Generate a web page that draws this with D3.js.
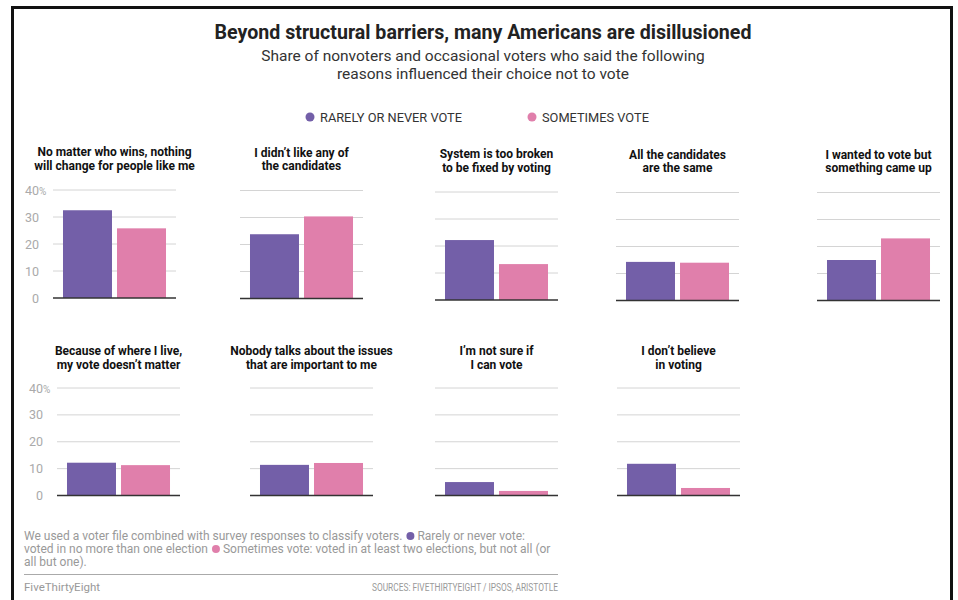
<!DOCTYPE html>
<html>
<head>
<meta charset="utf-8">
<title>Beyond structural barriers</title>
<script src="https://cdn.jsdelivr.net/npm/d3@7"></script>
<style>
body { margin:0; background:#fff; }
text { font-family: Roboto, "Liberation Sans", Arial, sans-serif; }
</style>
</head>
<body>
<script>
// chart data
var categories = [
  ["No matter who wins, nothing", "will change for people like me"],
  ["I didn\u2019t like any of", "the candidates"],
  ["System is too broken", "to be fixed by voting"],
  ["All the candidates", "are the same"],
  ["I wanted to vote but", "something came up"],
  ["Because of where I live,", "my vote doesn\u2019t matter"],
  ["Nobody talks about the issues", "that are important to me"],
  ["I\u2019m not sure if", "I can vote"],
  ["I don\u2019t believe", "in voting"]
];
var rarely    = [32.5, 23.8, 22.2, 14.3, 15.0, 12.2, 11.4, 5.0, 11.8];
var sometimes = [25.8, 30.4, 13.3, 14.0, 23.0, 11.3, 12.1, 1.7, 2.8];
var series = ["RARELY OR NEVER VOTE", "SOMETIMES VOTE"];
var tickValues = [0, 10, 20, 30, 40];

var colors = ["#735fa8", "#e07fab"];
var width = 958, height = 600;

var svg = d3.select('body').append('svg').attr('width', width).attr('height', height);

// frame
svg.append('rect').attr('x', 12.5).attr('y', 7.5).attr('width', 939).attr('height', 620)
  .attr('fill', 'none').attr('stroke', '#111').attr('stroke-width', 3);

// title + subtitle
svg.append('text').attr('x', 483).attr('y', 39).attr('text-anchor', 'middle')
  .attr('font-size', 19.5).attr('font-weight', 700).attr('fill', '#222')
  .attr('textLength', 537).attr('lengthAdjust', 'spacingAndGlyphs')
  .text('Beyond structural barriers, many Americans are disillusioned');
svg.append('text').attr('x', 483).attr('y', 61).attr('text-anchor', 'middle')
  .attr('font-size', 15.5).attr('fill', '#333')
  .text('Share of nonvoters and occasional voters who said the following');
svg.append('text').attr('x', 483).attr('y', 79).attr('text-anchor', 'middle')
  .attr('font-size', 15.5).attr('fill', '#333')
  .text('reasons influenced their choice not to vote');

// legend
var legX = [310, 532];
series.forEach(function(s, i){
  svg.append('circle').attr('cx', legX[i]).attr('cy', 117).attr('r', 4.5).attr('fill', colors[i]);
  svg.append('text').attr('x', legX[i] + 10).attr('y', 121.5).attr('font-size', 12.8)
    .attr('fill', '#333').text(s);
});

// panel layout
var colX = [53, 240, 435, 616, 817];
var colXRow2 = [57, 250, 435, 617, 817];
var panelW = 123;
var rowTop = [190, 388];
var rowBase = [298, 495.5];
var rowShift = [[0, 0.5, 2, 2.5, 2.5], [0, 0, 0, 0, 0]];
var titleY = [156, 355];

var band = d3.scaleBand().domain([0, 1]).range([0, panelW]).paddingInner(0.093).paddingOuter(0.185);

categories.forEach(function(cat, k){
  var row = k < 5 ? 0 : 1;
  var col = row === 0 ? k : k - 5;
  var x0 = row === 0 ? colX[col] : colXRow2[col];
  var dy = rowShift[row][col];
  var y = d3.scaleLinear().domain([0, 40]).range([rowBase[row] + dy, rowTop[row] + dy]);
  var g = svg.append('g').attr('transform', 'translate(' + x0 + ',0)');

  // title
  cat.forEach(function(line, li){
    g.append('text').attr('x', panelW / 2).attr('y', titleY[row] + dy + li * 13.5)
      .attr('text-anchor', 'middle').attr('font-size', 12).attr('font-weight', 700)
      .attr('fill', '#111').text(line);
  });

  // grid
  g.selectAll('line.grid').data(tickValues.slice(1)).enter().append('line')
    .attr('x1', 0).attr('x2', panelW)
    .attr('y1', function(d){ return y(d); }).attr('y2', function(d){ return y(d); })
    .attr('stroke', '#d4d4d4').attr('stroke-width', 1);

  // bars
  var vals = [rarely[k], sometimes[k]];
  g.selectAll('rect.bar').data(vals).enter().append('rect')
    .attr('x', function(d, i){ return band(i); })
    .attr('width', band.bandwidth())
    .attr('y', function(d){ return y(d); })
    .attr('height', function(d){ return y(0) - y(d); })
    .attr('fill', function(d, i){ return colors[i]; });

  // baseline
  g.append('line').attr('x1', 0).attr('x2', panelW).attr('y1', y(0)).attr('y2', y(0))
    .attr('stroke', '#333').attr('stroke-width', 1.5);

  // tick labels only on first column
  if (col === 0) {
    g.selectAll('text.tick').data(tickValues).enter().append('text')
      .attr('x', -14).attr('y', function(d){ return y(d) + 4.5; })
      .attr('text-anchor', 'end').attr('font-size', 12.5)
      .attr('font-family', '"DejaVu Sans Mono", monospace').attr('fill', '#aaa')
      .text(function(d){ return d; });
    g.append('text').attr('x', -14).attr('y', y(40) + 4.5).attr('font-size', 10)
      .attr('font-family', '"DejaVu Sans Mono", monospace').attr('fill', '#aaa').text('%');
  }
});

// footer note: text, coloured dot, text on each of the first two lines
function noteLine(y, before, dotColor, after) {
  var a = svg.append('text').attr('x', 24).attr('y', y).attr('font-size', 12).attr('fill', '#999').text(before);
  var w = a.node().getComputedTextLength();
  svg.append('circle').attr('cx', 24 + w + 8).attr('cy', y - 4).attr('r', 4).attr('fill', dotColor);
  svg.append('text').attr('x', 24 + w + 15).attr('y', y).attr('font-size', 12).attr('fill', '#999').text(after);
}
noteLine(540, 'We used a voter file combined with survey responses to classify voters.', colors[0], 'Rarely or never vote:');
noteLine(553, 'voted in no more than one election', colors[1], 'Sometimes vote: voted in at least two elections, but not all (or');
svg.append('text').attr('x', 24).attr('y', 566).attr('font-size', 12).attr('fill', '#999').text('all but one).');

svg.append('line').attr('x1', 24).attr('x2', 558).attr('y1', 574.5).attr('y2', 574.5)
  .attr('stroke', '#aaa').attr('stroke-width', 1.2);
svg.append('text').attr('x', 24).attr('y', 591).attr('font-size', 11.5).attr('fill', '#999')
  .text('FiveThirtyEight');
svg.append('text').attr('x', 558).attr('y', 591).attr('text-anchor', 'end')
  .attr('font-size', 10).attr('fill', '#999')
  .attr('textLength', 186).attr('lengthAdjust', 'spacingAndGlyphs')
  .text('SOURCES: FIVETHIRTYEIGHT / IPSOS, ARISTOTLE');
</script>
</body>
</html>
